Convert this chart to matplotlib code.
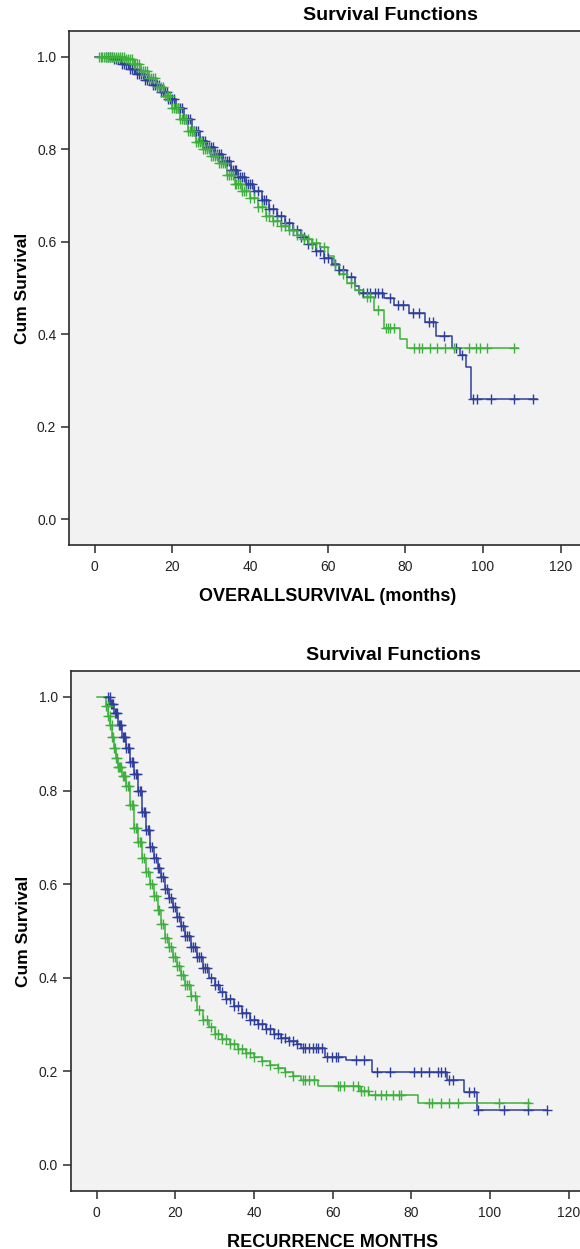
import numpy as np
import matplotlib
matplotlib.use("Agg")
import matplotlib.pyplot as plt

plt.rcParams["font.family"] = ["Liberation Sans", "DejaVu Sans"]

BLUE = "#2f3e9b"
GREEN = "#3fb03f"

# ---- overall survival (top panel) ----
os_blue_t = [0, 5, 7, 9, 11, 13, 15, 17, 19, 21, 23, 25, 27, 29, 31, 33, 35, 37, 39, 41, 43, 45,
             47, 49, 51, 53, 55, 57, 59, 61, 63, 65, 67, 68, 74.5, 77, 81, 85, 88, 92, 94, 95.5, 97, 114]
os_blue_s = [1.0, 0.995, 0.985, 0.975, 0.963, 0.95, 0.94, 0.925, 0.91, 0.89, 0.865, 0.84, 0.818, 0.805,
             0.79, 0.775, 0.755, 0.74, 0.725, 0.71, 0.69, 0.672, 0.655, 0.64, 0.625, 0.61, 0.595, 0.58,
             0.565, 0.552, 0.54, 0.525, 0.505, 0.49, 0.478, 0.463, 0.446, 0.427, 0.396, 0.37, 0.355,
             0.33, 0.26, 0.26]
os_blue_cens = [3, 3.5, 4, 4.5, 5, 5.5, 6, 6.5, 7, 7.5, 8, 8.5, 9, 9.5, 10, 10.5, 11, 11.5, 12, 12.5,
                13, 13.5, 14, 14.5, 15, 15.5, 16, 16.5, 17, 17.5, 18, 18.5, 19, 19.5, 20, 20.5, 21,
                21.5, 22, 22.5, 23, 23.5, 24, 24.5, 25, 25.5, 26, 26.5, 27, 27.5, 28, 28.5, 29, 29.5,
                30, 30.5, 31, 31.5, 32, 32.5, 33, 33.5, 34, 34.5, 35, 35.5, 36, 36.5, 37, 37.5, 38,
                38.5, 39, 39.5, 40, 40.5, 41, 42, 43, 43.5, 44, 45, 46, 47, 48, 49, 50, 51, 52, 53,
                54, 55, 56, 57, 58, 59, 60, 62, 63, 64, 66, 69, 70, 70.8, 72.1, 72.9, 73.9, 76, 78,
                79.5, 82, 83.5, 86, 87, 90, 93, 94.5, 97.5, 98.5, 102, 108, 113]

os_green_t = [1, 8, 10, 12, 14, 16, 18, 20, 22, 24, 26, 28, 30, 32, 34, 36, 38, 40, 42, 44, 46, 48,
              50, 52, 54, 56, 58, 60, 61.5, 63, 65, 67, 69, 72, 74.5, 78.7, 80.5, 109]
os_green_s = [1.0, 0.995, 0.985, 0.97, 0.955, 0.935, 0.915, 0.89, 0.865, 0.84, 0.815, 0.80, 0.785,
              0.77, 0.745, 0.725, 0.71, 0.695, 0.675, 0.655, 0.645, 0.635, 0.625, 0.615, 0.607, 0.598,
              0.588, 0.57, 0.55, 0.53, 0.51, 0.495, 0.48, 0.452, 0.413, 0.39, 0.37, 0.37]
os_green_cens = [1, 1.5, 2, 2.5, 3, 3.5, 4, 4.5, 5, 5.5, 6, 6.5, 7, 7.5, 8, 8.5, 9, 9.5, 10, 10.5, 11,
                 11.5, 12, 12.5, 13, 13.5, 14, 14.5, 15, 15.5, 16, 16.5, 17, 17.5, 18, 18.5, 19,
                 19.5, 20, 20.5, 21, 21.5, 22, 22.5, 23, 23.5, 24, 24.5, 25, 25.5, 26, 26.5, 27,
                 27.5, 28, 28.5, 29, 29.5, 30, 30.5, 31, 31.5, 32, 32.5, 33, 33.5, 34, 34.5, 35,
                 35.5, 36, 36.5, 37, 37.5, 38, 38.5, 39, 40, 41, 42, 43, 44, 45, 46, 47, 48, 49, 50,
                 51, 52, 53, 54, 55, 56, 57, 59, 62, 64, 66, 68, 70, 71, 73, 75, 75.5, 76, 77, 82.2,
                 83.5, 84.3, 86.3, 88.1, 90.2, 92.5, 96.3, 98.3, 99.1, 100.9, 108]

# ---- recurrence (bottom panel) ----
rec_blue_t = [2.5, 3.5, 4.5, 5.5, 6.5, 7.5, 8.5, 9.5, 10.5, 11.5, 12.5, 13.5, 14.5, 15.5, 16.5, 17.5,
              18.5, 19.5, 20.5, 21.5, 22.5, 24, 25.5, 27, 28.5, 30, 31.5, 33, 35, 37, 39, 41, 43, 45,
              47, 49, 51, 52, 58, 63.3, 70, 89, 93.3, 96.8, 114.6]
rec_blue_s = [1.0, 0.985, 0.965, 0.94, 0.915, 0.89, 0.86, 0.835, 0.8, 0.755, 0.715, 0.68, 0.655, 0.635,
              0.615, 0.59, 0.57, 0.55, 0.53, 0.51, 0.49, 0.465, 0.445, 0.42, 0.4, 0.385, 0.37, 0.355,
              0.34, 0.325, 0.31, 0.3, 0.29, 0.28, 0.272, 0.265, 0.258, 0.25, 0.231, 0.224, 0.199,
              0.182, 0.156, 0.117, 0.117]
rec_blue_cens = [3, 3.3, 3.6, 4, 4.3, 4.6, 5, 5.3, 5.6, 6, 6.3, 6.6, 7, 7.3, 7.6, 8, 8.3, 8.6, 9, 9.3,
                 9.6, 10, 10.3, 10.6, 11, 11.3, 11.6, 12, 12.3, 12.6, 13, 13.3, 13.6, 14, 14.5, 15,
                 15.5, 16, 16.5, 17, 17.5, 18, 18.5, 19, 19.5, 20, 20.5, 21, 21.5, 22, 22.5, 23, 23.5,
                 24, 24.5, 25, 25.5, 26, 26.5, 27, 27.5, 28, 29, 30, 31, 32, 33, 34, 35, 36, 37, 38,
                 39, 40, 41, 42, 43, 44, 45, 46, 47, 48, 49, 50, 51, 52.4, 53.1, 53.9, 54.9, 55.7,
                 56.4, 57.2, 58.7, 59.8, 60.8, 61.3, 65.9, 67.9, 71.2, 74.5, 80.6, 82.6, 84.4, 86.7,
                 87.5, 88.7, 89.5, 90.5, 94.6, 95.9, 96.9, 103.5, 109.8, 114.4]

rec_green_t = [0, 2.5, 3, 3.5, 4, 4.5, 5, 5.5, 6.5, 7.5, 8.5, 9.5, 10.5, 11.5, 12.5, 13.5, 14.5, 15.5,
               16.5, 17.5, 18.5, 19.5, 20.5, 21.5, 22.5, 24, 25.5, 27, 28.5, 30, 32, 34, 36, 38, 40,
               42, 44, 46, 48, 50, 52, 56.2, 67, 69.2, 81.6, 110.3]
rec_green_s = [1.0, 0.98, 0.96, 0.94, 0.915, 0.89, 0.87, 0.85, 0.83, 0.81, 0.77, 0.72, 0.69, 0.655,
               0.625, 0.6, 0.575, 0.545, 0.515, 0.485, 0.465, 0.445, 0.425, 0.405, 0.385, 0.36, 0.33,
               0.31, 0.295, 0.28, 0.268, 0.258, 0.248, 0.238, 0.23, 0.222, 0.214, 0.206, 0.198, 0.19,
               0.182, 0.169, 0.158, 0.15, 0.132, 0.132]
rec_green_cens = [2.5, 2.8, 3, 3.3, 3.5, 3.8, 4, 4.3, 4.5, 4.8, 5, 5.3, 5.5, 5.8, 6, 6.3, 6.6, 7, 7.3,
                  7.6, 8, 8.3, 8.6, 9, 9.3, 9.6, 10, 10.3, 10.6, 11, 11.3, 11.6, 12, 12.5, 13, 13.5,
                  14, 14.5, 15, 15.5, 16, 16.5, 17, 17.5, 18, 18.5, 19, 19.5, 20, 20.5, 21, 21.5, 22,
                  22.5, 23, 23.5, 24, 25, 26, 27, 28, 29, 30, 31, 32, 33, 34, 35, 36, 37, 38, 39, 40,
                  42, 44, 46, 48, 50, 52.4, 53.1, 53.9, 55.2, 61.3, 62, 62.8, 65.3, 66.4, 67.1, 67.9,
                  68.9, 70.9, 72.2, 73.5, 75.3, 76.8, 77.3, 84.4, 85.4, 87.5, 89.5, 91.8, 102.2,
                  109.6]


def step_value(t, s, c):
    idx = np.searchsorted(t, c, side="right") - 1
    return np.asarray(s)[np.clip(idx, 0, len(s) - 1)]


def km_curve(ax, t, s, cens, color):
    ax.plot(t, s, drawstyle="steps-post", color=color, lw=1.1, zorder=3)
    c = np.asarray(cens, dtype=float)
    ax.plot(c, step_value(np.asarray(t), s, c), ls="none", marker="+", ms=7, mew=1.0,
            color=color, zorder=4)


def style_axes(ax, xlabel):
    ax.set_facecolor("#f2f2f2")
    ax.set_xlim(-6.5, 126.5)
    ax.set_ylim(-0.056, 1.056)
    ax.set_xticks([0, 20, 40, 60, 80, 100, 120])
    ax.set_yticks([0.0, 0.2, 0.4, 0.6, 0.8, 1.0])
    ax.set_yticklabels(["0.0", "0.2", "0.4", "0.6", "0.8", "1.0"])
    for sp in ax.spines.values():
        sp.set_color("#2b2b2b")
        sp.set_linewidth(1.2)
    ax.tick_params(axis="both", direction="out", length=6, width=1.1, color="#2b2b2b",
                   labelsize=10, labelcolor="#222222")
    ax.tick_params(axis="x", pad=5)
    ax.set_xlabel(xlabel, fontsize=13, fontweight="bold", labelpad=10)
    ax.set_ylabel("Cum Survival", fontsize=12.5, fontweight="bold", labelpad=5)


fig = plt.figure(figsize=(5.8, 12.49), dpi=100)

ax1 = fig.add_axes([0.1198, 0.5636, 0.8904, 0.4115])
km_curve(ax1, os_blue_t, os_blue_s, os_blue_cens, BLUE)
km_curve(ax1, os_green_t, os_green_s, os_green_cens, GREEN)
style_axes(ax1, "OVERALLSURVIVAL (months)")
fig.text(390 / 580, 1 - 15 / 1249, "Survival Functions", ha="center", va="center",
         fontsize=14, fontweight="bold")

ax2 = fig.add_axes([0.1224, 0.0464, 0.902, 0.4166])
km_curve(ax2, rec_blue_t, rec_blue_s, rec_blue_cens, BLUE)
km_curve(ax2, rec_green_t, rec_green_s, rec_green_cens, GREEN)
style_axes(ax2, "RECURRENCE MONTHS")
fig.text(393 / 580, 1 - 655 / 1249, "Survival Functions", ha="center", va="center",
         fontsize=14, fontweight="bold")

fig.savefig("out.png", dpi=100)
